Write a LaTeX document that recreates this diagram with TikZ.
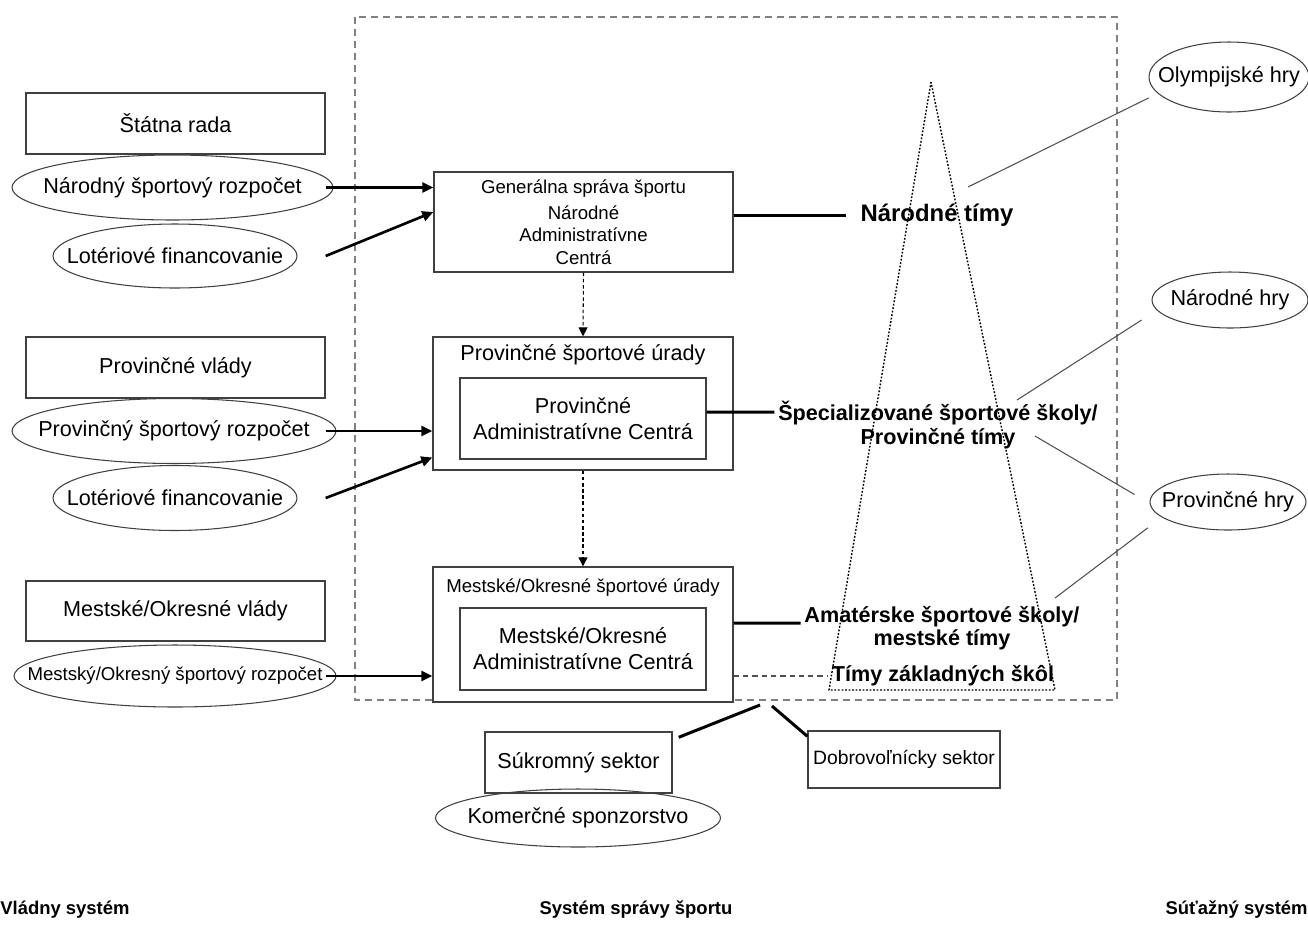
\documentclass[tikz,border=0pt]{standalone}
\usepackage{fontspec}
\setmainfont{Liberation Sans}
\usepackage{xcolor}
\usepackage{tikz}
\usetikzlibrary{calc,shapes.geometric,arrows.meta}
\definecolor{ink}{HTML}{000000}
\definecolor{edgec}{HTML}{404040}
\definecolor{framec}{HTML}{808080}
\definecolor{wirec}{HTML}{505050}
\tikzset{
  box/.style={draw=edgec, line width=0.8pt, fill=white, inner sep=0pt},
  oval/.style={draw=edgec, ellipse, line width=0.6pt, inner sep=0pt},
  lab/.style={text=ink, font=\fontsize{12.3}{14.7}\selectfont, inner sep=2pt},
  labs/.style={text=ink, font=\fontsize{10.6}{12.8}\selectfont, inner sep=2pt},
  labb/.style={text=ink, font=\bfseries\fontsize{12.3}{13.3}\selectfont, align=center, inner sep=2pt},
  labt/.style={text=ink, font=\bfseries\fontsize{10.5}{12}\selectfont, inner sep=0pt},
  feed/.style={draw=ink, line width=1.5pt, -{Triangle[length=2.2mm,width=2mm]}},
  tie/.style={draw=ink, line width=1.7pt},
  downarrow/.style={draw=ink, line width=0.6pt, dash pattern=on 2pt off 1.5pt, -{Triangle[length=1.8mm,width=1.8mm]}},
  wire/.style={draw=wirec, line width=0.6pt},
  gapline/.style={draw=wirec, line width=0.6pt, dash pattern=on 3pt off 2.3pt},
  frame/.style={draw=framec, line width=0.9pt, dash pattern=on 4pt off 2.8pt},
  pyr/.style={draw=ink, line width=0.8pt, dash pattern=on 1pt off 1pt},
}

\begin{document}
\begin{tikzpicture}[x=0.02cm, y=-0.02cm]
  \useasboundingbox (0,0) rectangle (1308,924);

  \draw[frame] (355,17) rectangle (1117,700); % sports administration

  % government system
  \node[box, lab, minimum width=5.98cm, minimum height=1.22cm] (rada) at (175.5,123.5) {Štátna rada};
  \node[oval, minimum width=6.42cm, minimum height=1.3cm] (nrozpov) at (172.5,187.5) {};
  \node[lab] (nrozp) at (nrozpov) {Národný športový rozpočet};
  \node[oval, minimum width=4.88cm, minimum height=1.28cm] (lot1ov) at (175,256) {};
  \node[lab] (lot1) at (lot1ov) {Lotériové financovanie};

  \node[box, lab, minimum width=5.98cm, minimum height=1.22cm] (pvlady) at (175.5,367.5) {Provinčné vlády};
  \node[oval, minimum width=6.48cm, minimum height=1.3cm] (prozpov) at (174,431) {};
  \node[lab] (prozp) at (prozpov) {Provinčný športový rozpočet};
  \node[oval, minimum width=4.88cm, minimum height=1.3cm] (lot2ov) at (175,498) {};
  \node[lab] (lot2) at (lot2ov) {Lotériové financovanie};

  \node[box, lab, minimum width=5.98cm, minimum height=1.2cm] (mvlady) at (175.5,611) {Mestské/Okresné vlády};
  \node[oval, minimum width=6.44cm, minimum height=1.24cm] (mrozpov) at (175,676) {};
  \node[labs] (mrozp) at (mrozpov) {Mestský/Okresný športový rozpočet};

  % administration
  \node[box, labs, align=center, minimum width=5.98cm, minimum height=2cm] (gsport) at (583.5,222)
    {Generálna správa športu\\[2pt]Národné\\Administratívne\\Centrá};

  \node[box, minimum width=6cm, minimum height=2.66cm] (pur) at (583,403.5) {};
  \node[lab] (purt) at (583,355) {Provinčné športové úrady};
  \node[box, lab, align=center, minimum width=4.92cm, minimum height=1.62cm] (pac) at (583,418.5)
    {Provinčné\\Administratívne Centrá};

  \node[box, minimum width=6cm, minimum height=2.7cm] (mur) at (583,634.5) {};
  \node[labs] (murt) at (583,588) {Mestské/Okresné športové úrady};
  \node[box, lab, align=center, minimum width=4.92cm, minimum height=1.64cm] (mac) at (583,649)
    {Mestské/Okresné\\Administratívne Centrá};

  \draw[feed] (nrozp -| rada.east) -- (nrozp -| gsport.west);
  \draw[feed] (lot1 -| rada.east) -- ($(gsport.west)+(0,-10)$);
  \draw[feed] (prozp -| pvlady.east) -- (prozp -| pur.west);
  \draw[feed] (lot2 -| pvlady.east) -- ($(pur.west)+(0,54)$);
  \draw[feed] (mrozp -| mvlady.east) -- (mrozp -| mur.west);

  \draw[downarrow] (gsport.south) -- (pur.north);
  \draw[downarrow] (pur.south) -- (mur.north);

  % competition system
  \draw[pyr] (931,82) -- (829,690) -- (1055,690) -- cycle;
  \node[labb, font=\bfseries\fontsize{13.6}{15}\selectfont, inner xsep=8pt] (ntimy) at (937,215) {Národné tímy};
  \node[labb] (spec) at (938,425) {Špecializované športové školy/\\Provinčné tímy};
  \node[labb] (amat) at (942,628) {Amatérske športové školy/\\mestské tímy};
  \node[labb] (tzs) at (943,676) {Tímy základných škôl};

  \draw[tie] (gsport.east |- ntimy) -- (ntimy.west);
  \draw[tie] ([yshift=0.13cm]pac.east) -- ([yshift=0.26cm]spec.west);
  \draw[tie] ([yshift=0.23cm]mur.east) -- ([yshift=0.1cm]amat.west);
  \draw[gapline] (mur.east |- tzs) -- (tzs.west);

  \node[oval, minimum width=3.2cm, minimum height=1.4cm] (olyov) at (1229,77) {};
  \node[lab] (oly) at (olyov) {Olympijské hry};
  \node[oval, minimum width=3.12cm, minimum height=1.12cm] (nhryov) at (1230,300) {};
  \node[lab] (nhry) at (nhryov) {Národné hry};
  \node[oval, minimum width=3.12cm, minimum height=1.12cm] (phryov) at (1228,502) {};
  \node[lab] (phry) at (phryov) {Provinčné hry};

  \coordinate (olyfoot) at (968,187);
  \coordinate (nhryfoot) at (1017,400);
  \coordinate (phryfoot) at (1035,436);
  \coordinate (amatfoot) at (1055,598);
  \draw[wire, shorten >=0.2cm] (olyfoot) -- (olyov.193);
  \draw[wire, shorten >=0.36cm] (nhryfoot) -- (nhryov.188);
  \draw[wire, shorten >=0.35cm] (phryfoot) -- (phryov.181);
  \draw[wire, shorten >=0.35cm] (amatfoot) -- (phryov.193);

  % sectors
  \node[box, lab, minimum width=3.74cm, minimum height=1.22cm] (sukr) at (578.5,762.5) {Súkromný sektor};
  \node[box, labs, font=\fontsize{11}{13}\selectfont, minimum width=3.84cm, minimum height=1.14cm] (dobr) at (904,759.5) {Dobrovoľnícky sektor};
  \node[oval, minimum width=5.7cm, minimum height=1.16cm] (komov) at (578,818) {};
  \node[lab] (kom) at (komov) {Komerčné sponzorstvo};

  \coordinate (sectA) at (760,705);
  \coordinate (sectB) at (772,706);
  \draw[tie] (sectA) -- ([xshift=0.12cm,yshift=-0.12cm]sukr.north east);
  \draw[tie] (sectB) -- ([yshift=-0.12cm]dobr.north west);

  \node[labt, anchor=west] (govsys) at (0,910) {Vládny systém};
  \node[labt] (admsys) at (636,910) {Systém správy športu};
  \node[labt, anchor=east] (compsys) at (1308,910) {Súťažný systém};
\end{tikzpicture}
\end{document}
